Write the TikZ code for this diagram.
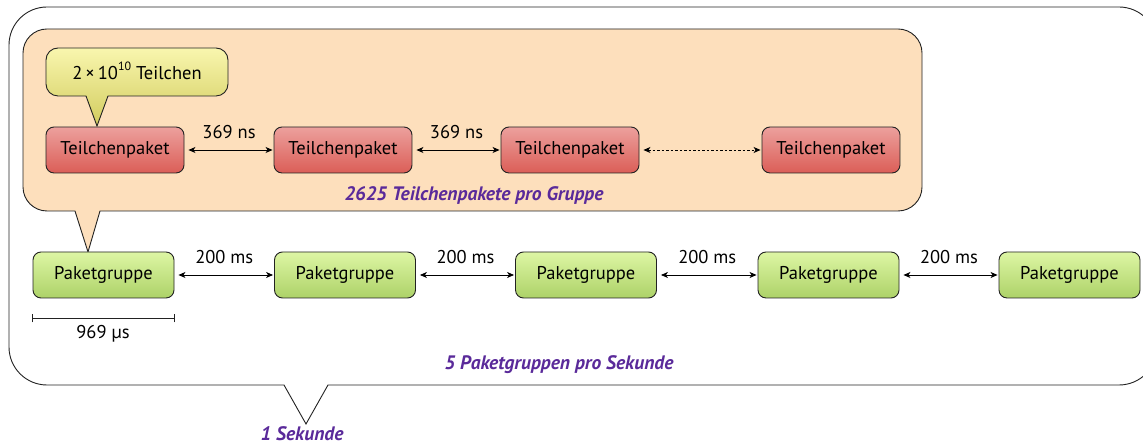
\documentclass[tikz,border=0pt]{standalone}
\usepackage{fontspec}
\setmainfont{PT Sans}
\usetikzlibrary{arrows.meta}
\definecolor{inkline}{HTML}{222222}
\definecolor{groupfill}{HTML}{FDDFBC}
\definecolor{redtop}{HTML}{ECA09D}
\definecolor{redbot}{HTML}{DB5E57}
\definecolor{greentop}{HTML}{DDF6A4}
\definecolor{greenbot}{HTML}{ADD268}
\definecolor{yeltop}{HTML}{F9F6AE}
\definecolor{yelbot}{HTML}{D2CC5E}
\definecolor{notecol}{HTML}{5A2A9A}
\tikzset{
  x=1pt, y=1pt,
  every node/.style={font=\fontsize{18.5}{20}\selectfont, inner sep=0pt},
  frameline/.style={draw=inkline, line width=0.9pt},
  bunch/.style={frameline, rounded corners=8pt, minimum width=138pt, minimum height=46pt,
                top color=redtop, bottom color=redbot},
  pgroup/.style={frameline, rounded corners=8pt, minimum width=141pt, minimum height=46pt,
                 top color=greentop, bottom color=greenbot},
  gap/.style={line width=0.8pt, {Stealth[length=7pt,width=6pt,inset=2pt]}-{Stealth[length=7pt,width=6pt,inset=2pt]},
              shorten <=4pt, shorten >=1pt},
  note/.style={text=notecol, font=\fontsize{19.5}{21}\selectfont\bfseries\itshape},
}
\begin{document}
\begin{tikzpicture}
\useasboundingbox (0,0) rectangle (1143,446);
\begin{scope}
\clip (0,0) rectangle (1143,446);
% outer frame: one second, with pointer
\draw[frameline, fill=white]
  (284,61) -- (47,61) arc[start angle=270, end angle=180, radius=38]
  -- (9,401) arc[start angle=180, end angle=90, radius=38]
  -- (1119,439) arc[start angle=90, end angle=0, radius=38]
  -- (1157,99) arc[start angle=0, end angle=-90, radius=38]
  -- (328,61) -- (306,22) -- cycle;
\end{scope}
% packet group panel
\draw[frameline, fill=groupfill]
  (75,235) -- (47,235) arc[start angle=270, end angle=180, radius=24]
  -- (23,393) arc[start angle=180, end angle=90, radius=24]
  -- (898,417) arc[start angle=90, end angle=0, radius=24]
  -- (922,259) arc[start angle=0, end angle=-90, radius=24]
  -- (100,235) -- (88,194) -- cycle;
% particle count callout
\draw[frameline, top color=yeltop, bottom color=yelbot]
  (86,350) -- (58,350) arc[start angle=270, end angle=180, radius=12]
  -- (46,386) arc[start angle=180, end angle=90, radius=12]
  -- (216,398) arc[start angle=90, end angle=0, radius=12]
  -- (228,362) arc[start angle=0, end angle=-90, radius=12]
  -- (108,350) -- (97,320) -- cycle;
\node (count) at (137,375) {2\,×\,10\raisebox{0.45em}{\fontsize{12}{12}\selectfont 10} Teilchen};

% bunches
\node[bunch] (t1) at (115,296) {Teilchenpaket};
\node[bunch] (t2) at (343,296) {Teilchenpaket};
\node[bunch] (t3) at (570,296) {Teilchenpaket};
\node[bunch] (t4) at (831,296) {Teilchenpaket};
\draw[gap] (t1.east) -- (t2.west) node[midway, yshift=18pt] (s1) {369 ns};
\draw[gap] (t2.east) -- (t3.west) node[midway, yshift=18pt] (s2) {369 ns};
\draw[gap, dash pattern=on 2.5pt off 2pt] (t3.east) -- (t4.west);
\node[note] (bunchnote) at (474,251) {2625 Teilchenpakete pro Gruppe};

% packet groups
\node[pgroup] (g1) at (103.5,171) {Paketgruppe};
\node[pgroup] (g2) at (345,171) {Paketgruppe};
\node[pgroup] (g3) at (586,171) {Paketgruppe};
\node[pgroup] (g4) at (828.5,171) {Paketgruppe};
\node[pgroup] (g5) at (1069.5,171) {Paketgruppe};
\foreach \a/\b in {g1/g2, g2/g3, g3/g4, g4/g5}
  \draw[gap] (\a.east) -- (\b.west) node[midway, yshift=18pt] {200 ms};

% group length scale bar
\coordinate (bl) at ([yshift=-20pt]g1.south west);
\coordinate (br) at ([yshift=-20pt]g1.south east);
\draw[line width=0.8pt, inkline] (bl) -- (br);
\draw[line width=0.8pt, inkline] ([yshift=-4pt]bl) -- ([yshift=4pt]bl);
\draw[line width=0.8pt, inkline] ([yshift=-4pt]br) -- ([yshift=4pt]br);
\node (len) at (103,112) {969 µs};

\node[note] (pernote) at (559,81) {5 Paketgruppen pro Sekunde};
\node[note] (secnote) at (302,12) {1 Sekunde};
\end{tikzpicture}
\end{document}
